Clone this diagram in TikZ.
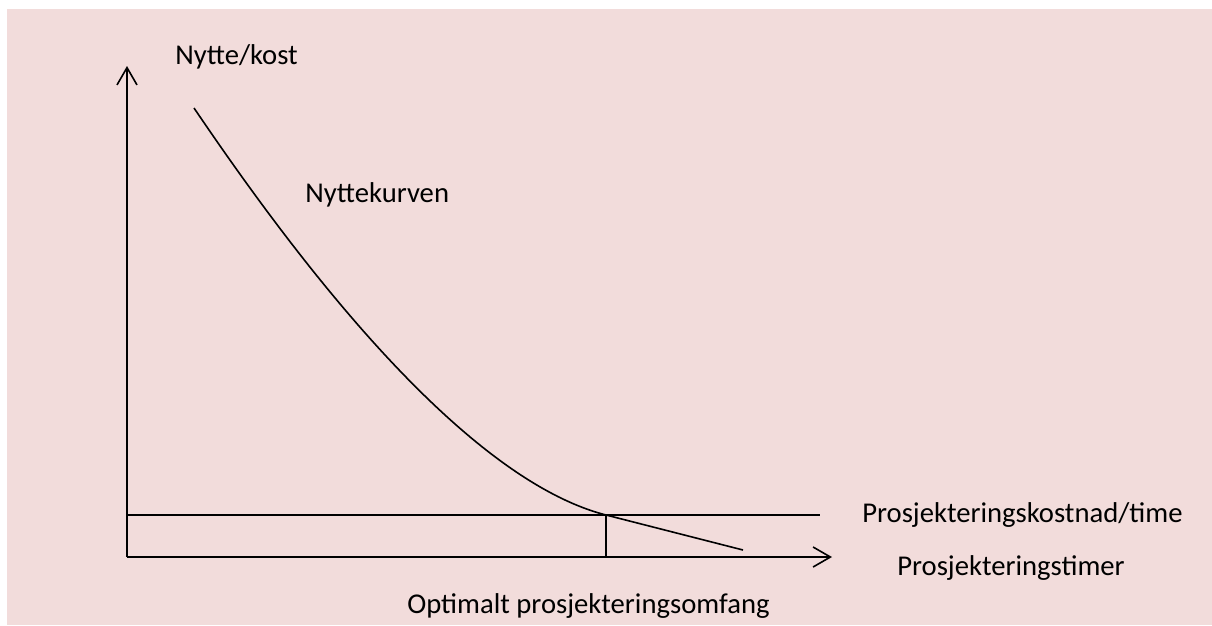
\documentclass[tikz,border=0pt]{standalone}
\usepackage{fontspec}
\setmainfont{Carlito}
\usetikzlibrary{arrows.meta}
\definecolor{panel}{HTML}{F2DCDB}
\begin{document}
\begin{tikzpicture}[x=0.75pt,y=-0.75pt,
  axis/.style={line width=1.2pt,-{Straight Barb[length=13pt,width=15pt,line width=1.2pt]}},
  plain/.style={line width=1.2pt},
  lbl/.style={anchor=west,inner sep=0pt,font=\fontsize{21.5}{26}\selectfont}]
  \useasboundingbox (0,0) rectangle (1212,625);
  \fill[white] (0,0) rectangle (1212,625);
  \fill[panel] (7,9) rectangle (1212,625);

  % axes
  \coordinate (O) at (127,557);
  \coordinate (ytop) at (127,66);
  \coordinate (xend) at (832,557);
  \draw[axis] (O) -- (ytop);
  \draw[axis] (O) -- (xend);

  % cost line and optimum marker
  \coordinate (c0) at (127,515);
  \coordinate (c1) at (820,515);
  \coordinate (opt) at (606,515);
  \coordinate (optfoot) at (606,557);
  \draw[plain] (c0) -- (c1);
  \draw[plain] (opt) -- (optfoot);

  % benefit curve, convex and falling through the optimum
  \coordinate (k0) at (194,108);
  \coordinate (k1) at (743,550);
  \draw[plain,line join=round] (k0) .. controls (270,220) and (450,475) .. (opt)
    -- (k1);

  % labels
  \node[lbl] (ylab) at (175,57) {Nytte/kost};
  \node[lbl] (curvelab) at (305,195) {Nyttekurven};
  \node[lbl] (costlab) at (862,515) {Prosjekteringskostnad/time};
  \node[lbl] (xlab) at (897,568) {Prosjekteringstimer};
  \node[lbl] (optlab) at (407,606) {Optimalt prosjekteringsomfang};
\end{tikzpicture}
\end{document}
